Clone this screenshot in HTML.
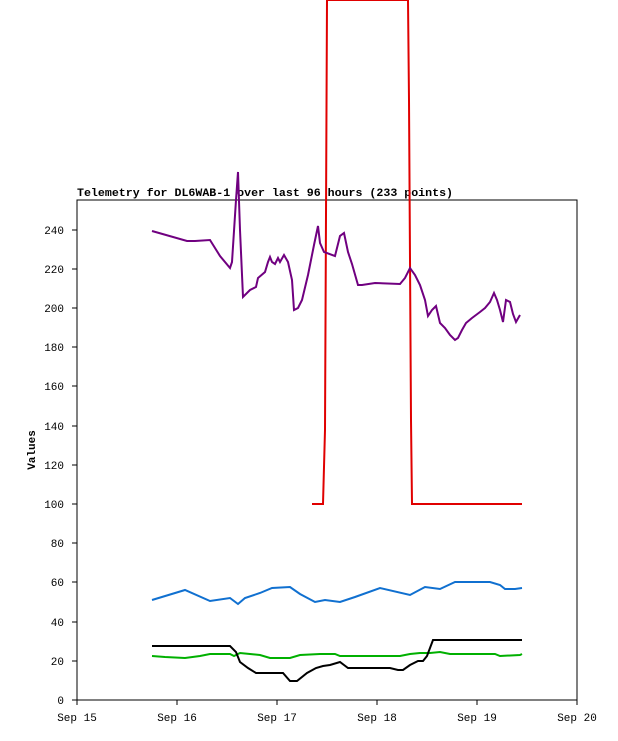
<!DOCTYPE html>
<html><head><style>body{margin:0;background:#fff}svg{display:block}</style></head><body>
<svg width="618" height="741" xmlns="http://www.w3.org/2000/svg" font-family="Liberation Mono, DejaVu Sans Mono, monospace" font-size="11">
<rect x="77" y="200" width="500" height="500" fill="none" stroke="#000"/>
<text x="77" y="196" font-weight="bold" font-size="11" textLength="376" lengthAdjust="spacingAndGlyphs">Telemetry for DL6WAB-1 over last 96 hours (233 points)</text>
<g stroke="#000"><line x1="72" y1="700" x2="77" y2="700"/><line x1="72" y1="661" x2="77" y2="661"/><line x1="72" y1="622" x2="77" y2="622"/><line x1="72" y1="582" x2="77" y2="582"/><line x1="72" y1="543" x2="77" y2="543"/><line x1="72" y1="504" x2="77" y2="504"/><line x1="72" y1="465" x2="77" y2="465"/><line x1="72" y1="426" x2="77" y2="426"/><line x1="72" y1="386" x2="77" y2="386"/><line x1="72" y1="347" x2="77" y2="347"/><line x1="72" y1="308" x2="77" y2="308"/><line x1="72" y1="269" x2="77" y2="269"/><line x1="72" y1="230" x2="77" y2="230"/>
<line x1="77" y1="700" x2="77" y2="705"/><line x1="177" y1="700" x2="177" y2="705"/><line x1="277" y1="700" x2="277" y2="705"/><line x1="377" y1="700" x2="377" y2="705"/><line x1="477" y1="700" x2="477" y2="705"/><line x1="577" y1="700" x2="577" y2="705"/></g>
<g text-anchor="end"><text x="64" y="704">0</text><text x="64" y="665">20</text><text x="64" y="626">40</text><text x="64" y="586">60</text><text x="64" y="547">80</text><text x="64" y="508">100</text><text x="64" y="469">120</text><text x="64" y="430">140</text><text x="64" y="390">160</text><text x="64" y="351">180</text><text x="64" y="312">200</text><text x="64" y="273">220</text><text x="64" y="234">240</text></g>
<g text-anchor="middle"><text x="77" y="721">Sep 15</text><text x="177" y="721">Sep 16</text><text x="277" y="721">Sep 17</text><text x="377" y="721">Sep 18</text><text x="477" y="721">Sep 19</text><text x="577" y="721">Sep 20</text></g>
<text transform="translate(35,450) rotate(-90)" text-anchor="middle" font-weight="bold">Values</text>
<g fill="none" stroke-width="2">
<polyline stroke="#00b000" points="152,656 165,657 185,658 200,656 210,654 230,654 234,656 240,653 250,654 260,655 270,658 290,658 300,655 320,654 335,654 340,656 400,656 410,654 420,653 430,653 440,652 450,654 495,654 500,656 520,655 522,654"/>
<polyline stroke="#000" points="152,646 230,646 236,652 240,662 248,668 256,673 283,673 290,681 297,681 307,673 316,668 323,666 330,665 340,662 348,668 390,668 398,670 403,670 410,665 418,661 423,661 427,656 433,640 522,640"/>
<polyline stroke="#1070d0" points="152,600 185,590 210,601 230,598 238,604 245,598 260,593 272,588 290,587 300,594 315,602 325,600 340,602 355,597 380,588 410,595 425,587 440,589 455,582 490,582 500,585 505,589 515,589 522,588"/>
<polyline stroke="#e00000" points="312,504 323,504 325,430 327,0 408,0 409,100 411,420 412,504 522,504"/>
<polyline stroke="#700080" points="152,231 187,241 195,241 210,240 220,256 230,268 232,262 236,200 238,172 240,230 243,297 250,290 256,287 258,278 265,272 268,262 270,257 272,262 275,264 278,258 280,262 284,255 288,262 292,280 294,310 298,308 302,300 308,275 314,245 318,226 320,243 324,252 335,256 340,236 344,233 348,252 352,264 358,285 362,285 375,283 400,284 405,278 410,268 415,275 420,285 425,300 428,316 432,310 436,306 440,323 445,328 450,335 455,340 458,338 462,330 466,323 472,318 480,312 485,308 490,302 494,293 497,300 500,310 503,322 506,300 510,302 513,314 516,322 520,315"/>
</g>
</svg>
</body></html>
